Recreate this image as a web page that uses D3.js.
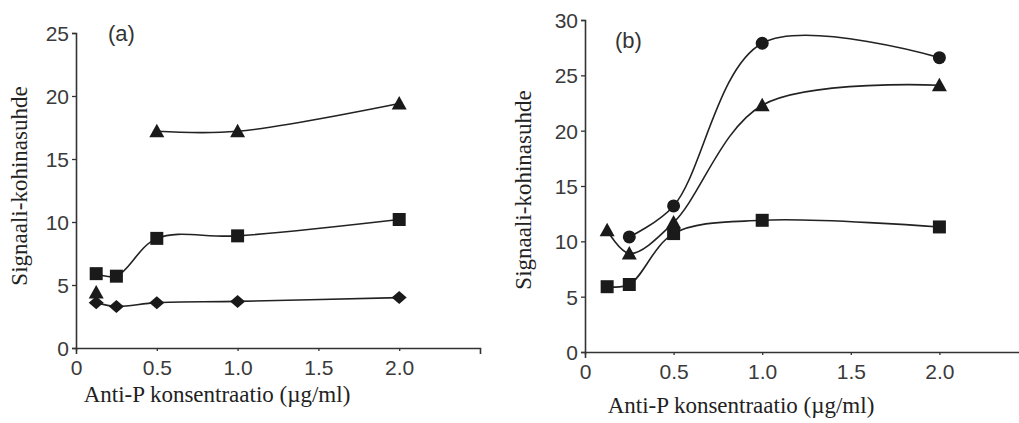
<!DOCTYPE html>
<html>
<head>
<meta charset="utf-8">
<script src="https://cdn.jsdelivr.net/npm/d3@7"></script>
<style>
  html, body { margin: 0; padding: 0; background: #fff; }
  svg { display: block; }
</style>
</head>
<body>
<svg id="chart" width="1019" height="423"></svg>
<script>
// ---- data ----
const concentrations = [0.125, 0.25, 0.5, 1.0, 2.0];

// panel (a)
const aTriangle = [4.4, null, 17.2, 17.2, 19.4];
const aSquare   = [5.9, 5.7, 8.7, 8.9, 10.2];
const aDiamond  = [3.6, 3.3, 3.6, 3.7, 4.0];

// panel (b)
const bCircle   = [null, 10.4, 13.2, 27.9, 26.6];
const bTriangle = [11.0, 8.9, 11.7, 22.3, 24.1];
const bSquare   = [5.9, 6.1, 10.7, 11.9, 11.3];

const xTicks = [0, 0.5, 1.0, 1.5, 2.0];
const xTickLabels = ["0", "0.5", "1.0", "1.5", "2.0"];
const aYTicks = [0, 5, 10, 15, 20, 25];
const bYTicks = [0, 5, 10, 15, 20, 25, 30];

const yLabel = "Signaali-kohinasuhde";
const xLabel = "Anti-P konsentraatio (\u00b5g/ml)";

// ---- drawing ----
const svg = d3.select("#chart");
const ink = "#222";

function markerPath(shape) {
  const p = d3.path();
  if (shape === "square") {
    p.rect(-6.5, -6.5, 13, 13);
  } else if (shape === "triangle") {
    p.moveTo(0, -7.5); p.lineTo(7.5, 6); p.lineTo(-7.5, 6); p.closePath();
  } else if (shape === "diamond") {
    p.moveTo(0, -6.5); p.lineTo(7.5, 0); p.lineTo(0, 6.5); p.lineTo(-7.5, 0); p.closePath();
  } else {
    p.arc(0, 0, 6.5, 0, Math.PI * 2);
  }
  return p.toString();
}

function panel(cfg) {
  const x = d3.scaleLinear().domain([0, 2.5]).range(cfg.xRange);
  const y = d3.scaleLinear().domain([0, cfg.yMax]).range(cfg.yRange);
  const g = svg.append("g");

  const xAxis = d3.axisBottom(x).tickValues(xTicks)
    .tickFormat((d, i) => xTickLabels[i]).tickSizeInner(3).tickSizeOuter(6).tickPadding(9);
  const gx = g.append("g").attr("transform", `translate(0,${cfg.yRange[0]})`).call(xAxis);

  const yAxis = d3.axisLeft(y).tickValues(cfg.yTicks).tickFormat(d3.format("d"))
    .tickSizeInner(4).tickSizeOuter(4).tickPadding(3);
  const gy = g.append("g").attr("transform", `translate(${cfg.xRange[0]},0)`).call(yAxis);

  [gx, gy].forEach(a => {
    a.select(".domain").attr("stroke", "#333").attr("stroke-width", 1.6);
    a.selectAll(".tick line").attr("stroke", "#333").attr("stroke-width", 1.3);
    a.selectAll(".tick text").attr("fill", "#3a3a3a")
      .style("font-family", "'Liberation Sans', Arial, sans-serif").style("font-size", "21px");
  });
  gy.selectAll(".tick text").attr("dy", "0.36em");

  const line = d3.line()
    .defined(d => d.v != null)
    .x(d => x(d.c)).y(d => y(d.v))
    .curve(d3.curveCatmullRom.alpha(0.5));

  cfg.series.forEach(s => {
    const pts = concentrations.map((c, i) => ({ c, v: s.values[i] }));
    const segs = [];
    let cur = [];
    pts.forEach(p => { if (p.v == null) { if (cur.length) segs.push(cur); cur = []; } else cur.push(p); });
    if (cur.length) segs.push(cur);
    segs.filter(sg => sg.length > 1).forEach(sg => {
      g.append("path").attr("d", line(sg)).attr("fill", "none")
        .attr("stroke", ink).attr("stroke-width", 1.6);
    });
    g.selectAll(null).data(pts.filter(p => p.v != null)).enter().append("path")
      .attr("d", markerPath(s.shape))
      .attr("transform", d => `translate(${x(d.c)},${y(d.v)})`)
      .attr("fill", "#1a1a1a");
  });

  g.append("text").attr("x", cfg.tag[0]).attr("y", cfg.tag[1])
    .attr("fill", "#333").style("font-family", "'Liberation Sans', Arial, sans-serif")
    .style("font-size", "22px").text(cfg.tagText);

  g.append("text").attr("transform", `translate(${cfg.yLab[0]},${cfg.yLab[1]}) rotate(-90)`)
    .attr("text-anchor", "middle").attr("fill", ink)
    .style("font-family", "'Liberation Serif', 'Times New Roman', serif").style("font-size", "23px")
    .text(yLabel);

  g.append("text").attr("x", cfg.xLab[0]).attr("y", cfg.xLab[1])
    .attr("text-anchor", "middle").attr("fill", ink)
    .style("font-family", "'Liberation Serif', 'Times New Roman', serif").style("font-size", "23px")
    .text(xLabel);
}

panel({
  xRange: [76, 480], yRange: [348, 33], yMax: 25, yTicks: aYTicks,
  tag: [108, 41], tagText: "(a)", yLab: [27, 186], xLab: [217, 402],
  series: [
    { values: aTriangle, shape: "triangle" },
    { values: aSquare, shape: "square" },
    { values: aDiamond, shape: "diamond" }
  ]
});

panel({
  xRange: [585, 1028], yRange: [352, 20], yMax: 30, yTicks: bYTicks,
  tag: [615, 48], tagText: "(b)", yLab: [531, 190], xLab: [741, 413],
  series: [
    { values: bCircle, shape: "circle" },
    { values: bTriangle, shape: "triangle" },
    { values: bSquare, shape: "square" }
  ]
});
</script>
</body>
</html>
